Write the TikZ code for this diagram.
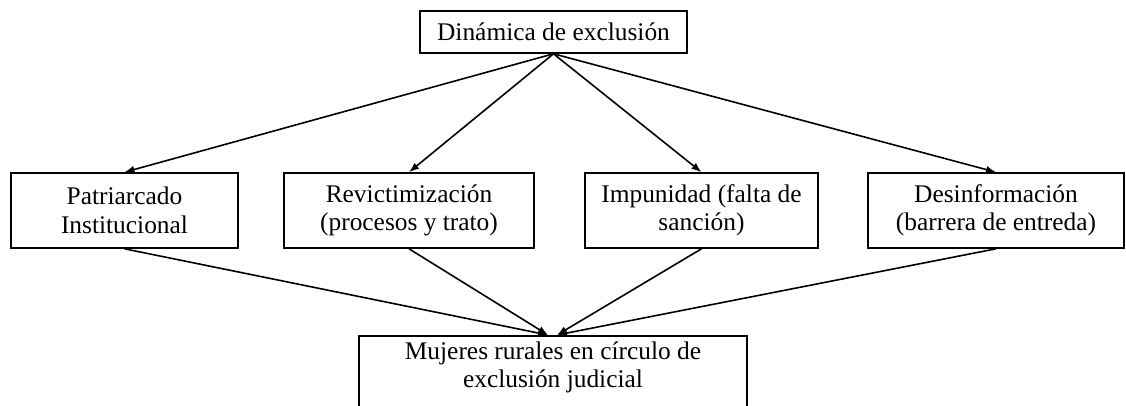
\documentclass[tikz,border=0pt]{standalone}
\usepackage{fontspec}
\setmainfont{Liberation Serif}
\usetikzlibrary{arrows.meta,calc}
\begin{document}
\begin{tikzpicture}[x=1pt,y=1pt,
  box/.style={draw, line width=1.6pt, align=center, inner sep=0pt, font=\fontsize{25.4}{28.5}\selectfont},
  arr/.style={-{Latex[length=10pt,width=7.5pt]}, line width=1.6pt}]
\useasboundingbox (0,0) rectangle (1126,406);
\clip (0,0) rectangle (1126,406);
\node[box, minimum width=267, minimum height=42] (top) at (553.5,374) {Dinámica de exclusión};
\node[box, minimum width=227, minimum height=75] (b1) at (124.5,195.5) {Patriarcado\\Institucional};
\node[box, minimum width=250, minimum height=75] (b2) at (409,195.5) {Revictimización\\(procesos y trato)};
\node[box, minimum width=233, minimum height=75] (b3) at (701.5,195.5) {Impunidad (falta de\\sanción)};
\node[box, minimum width=256, minimum height=75] (b4) at (996,195.5) {Desinformación\\(barrera de entreda)};
\node[box, minimum width=388, text height=44, text depth=51, inner ysep=8, anchor=north] (bot) at (553,71) {Mujeres rurales en círculo de\\exclusión judicial};
\draw[arr] (top.south) -- (b1.north);
\draw[arr] (top.south) -- (b2.north);
\draw[arr] (top.south) -- (b3.north);
\draw[arr] (top.south) -- (b4.north);
\draw[arr] (b1.south) -- ($(bot.north)+(-5,0)$);
\draw[arr] (b2.south) -- ($(bot.north)+(-5,0)$);
\draw[arr] (b3.south) -- ($(bot.north)+(4,0)$);
\draw[arr] (b4.south) -- ($(bot.north)+(4,0)$);
\end{tikzpicture}
\end{document}
